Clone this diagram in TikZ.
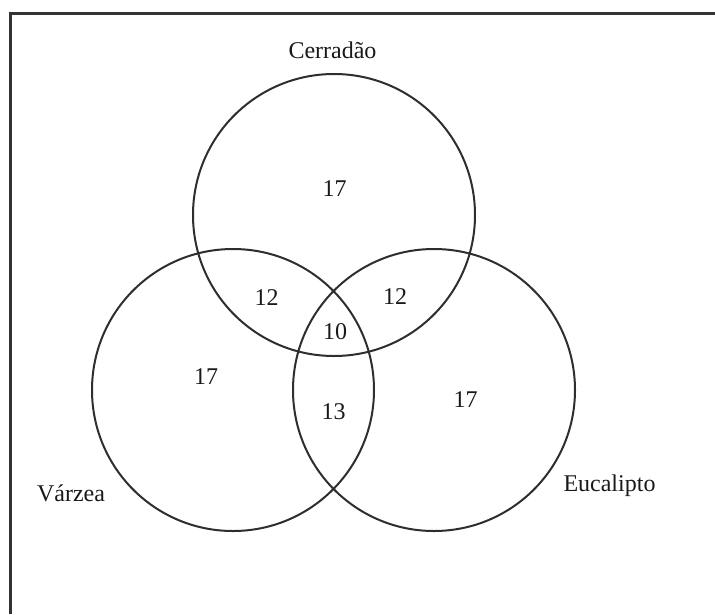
\documentclass[tikz,border=0pt]{standalone}
\usepackage{fontspec}
\setmainfont{Liberation Serif}
\usepackage{tikz}
\usetikzlibrary{shapes}

\tikzset{
    conjunto/.style={draw=black!82, line width=2pt, circle, minimum size=282pt, inner sep=0pt, outer sep=0pt},
    rotulo/.style={font=\fontsize{24}{28}\selectfont, text=black!90, inner sep=0pt, anchor=base},
}

\begin{document}
\begin{tikzpicture}[x=1pt,y=-1pt]
    \useasboundingbox (0,0) rectangle (715,614);
    %Moldura
    \draw[line width=3pt, black!80] (10.2,614) -- (10.2,13.5) -- (715,13.5);
    %Cerradao
    \node[conjunto] (cerradao) at (334,215) {};
    \node[rotulo] (nomeCerradao) at (332.5,58.3) {Cerradão};
    \node[rotulo] (soCerradao) at (334.5,196.5) {17};
    %Varzea
    \node[conjunto] (varzea) at (233,390) {};
    \node[rotulo] (nomeVarzea) at (71,501.5) {Várzea};
    \node[rotulo] (soVarzea) at (206,384) {17};
    %Eucalipto
    \node[conjunto] (eucalipto) at (434,390) {};
    \node[rotulo] (nomeEucalipto) at (609.5,491.5) {Eucalipto};
    \node[rotulo] (soEucalipto) at (465.5,407.5) {17};
    %Intersecoes
    \node[rotulo] (cerVar) at (266.7,305) {12};
    \node[rotulo] (cerEuc) at (395,304.5) {12};
    \node[rotulo] (varEuc) at (333.7,419) {13};
    \node[rotulo] (todos) at (335,339) {10};
\end{tikzpicture}
\end{document}
